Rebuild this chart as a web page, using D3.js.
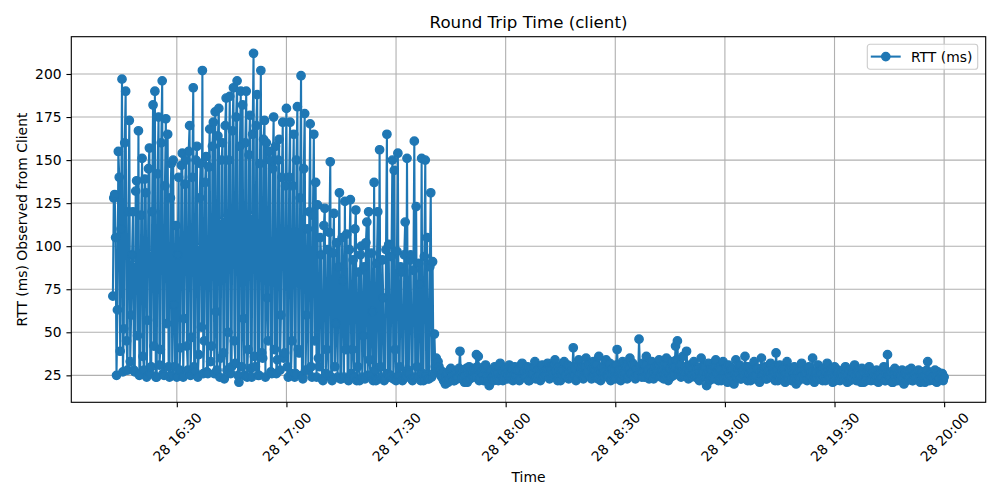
<!DOCTYPE html>
<meta charset="utf-8">
<style>

body {
  margin: 0;
  background: #fff;
}

text {
  font-family: "DejaVu Sans", sans-serif;
  fill: #000;
}

</style>
<svg width="1000" height="500"></svg>
<script src="https://d3js.org/d3.v7.min.js"></script>
<script>

// one probe every 15 s, starting 16:12:30 on the 28th
var startTime = new Date(2024, 2, 28, 16, 12, 30),
    stepSeconds = 15;

// 16:12:30 - 16:59:45, heavy jitter
var rttEarly = [
  71,128,130,105,25,63,155,140,39,110,197,27,52,160,190,45,28,120,173,33,
  60,95,120,28,27,132,138,48,167,25,26,118,151,36,28,139,131,24,57,145,
  157,26,30,120,182,42,190,24,24,142,175,31,40,160,196,26,25,135,174,55,
  165,30,24,128,148,25,150,66,30,112,24,95,140,28,41,147,154,24,58,136,
  150,42,28,155,170,25,47,140,192,30,27,150,158,24,37,128,148,53,202,26,
  45,137,152,27,26,146,168,33,42,158,172,26,178,62,28,164,180,24,35,150,
  160,38,23,170,186,28,50,150,187,26,30,167,192,45,32,175,196,25,21,158,
  190,30,182,58,25,160,190,24,40,153,176,29,24,165,212,36,30,170,188,25,
  25,148,202,38,35,162,173,24,160,70,45,155,150,27,26,145,175,40,158,26,
  34,150,162,28,60,140,172,35,38,135
];

// 17:00 - 17:41:15, jitter calming down
var rttMid = [
  180,30,24,140,172,26,45,135,165,24,26,150,181,40,38,128,199,25,23,145,
  177,28,60,110,28,120,171,30,24,118,165,45,137,24,124,35,30,105,95,23,
  22,112,122,26,40,98,25,108,149,24,22,96,119,30,55,102,24,88,131,23,
  23,105,80,24,126,40,107,23,22,98,127,26,40,92,24,110,121,22,30,85,
  22,95,100,24,48,88,23,102,114,25,120,34,25,96,62,22,137,28,22,90,
  120,23,156,30,24,92,70,22,23,98,165,26,101,24,25,94,150,23,144,40,
  22,97,154,25,30,88,85,22,23,95,114,24,151,28,26,92,95,23,22,86,
  161,24,123,30,24,90,78,22,151,26,22,94,150,25,105,23,23,88,131,24,
  91,26,49,30,35,28
];

// 17:41:30 - 20:00, stable
var rttLate = [
  33,30,28,25,24,27,22,24,20,23,26,21,23,28,29,24,25,22,22,26,27,23,24,29,39,26,23,24,28,21,25,29,21,25,30,23,26,28,24,27,
  29,24,37,30,36,22,23,27,27,25,22,29,31,23,25,21,19,26,28,24,24,22,30,27,26,23,22,30,32,25,27,22,24,28,29,26,23,25,31,24,
  26,29,22,25,30,23,25,28,28,22,23,31,32,26,27,24,24,29,30,22,22,27,29,25,26,30,33,23,24,28,28,25,22,30,31,24,27,26,25,29,
  32,25,23,30,29,24,26,31,34,27,24,22,30,28,22,26,28,32,33,24,25,29,31,23,27,30,24,28,41,25,29,22,23,31,34,26,26,29,30,23,
  24,30,35,26,27,32,31,24,23,29,33,25,28,31,25,23,36,28,22,27,30,24,27,33,34,25,24,30,32,22,26,29,29,24,23,31,40,26,28,23,
  22,28,33,25,27,31,30,23,24,29,35,26,26,32,31,24,23,28,29,25,46,30,27,24,32,27,24,31,36,26,28,23,25,30,33,27,23,29,30,25,
  27,31,34,25,24,28,31,23,26,32,35,27,22,26,29,24,33,28,25,30,42,34,45,26,28,31,24,27,36,25,27,30,39,28,23,27,31,24,26,29,
  33,26,24,30,29,23,22,27,35,25,27,31,30,24,19,26,32,22,25,29,28,24,23,30,34,27,26,22,30,28,22,25,33,24,27,29,24,21,31,26,
  25,28,29,22,20,26,34,24,26,29,31,23,23,27,28,25,36,30,24,22,30,26,22,28,27,24,33,23,25,29,29,22,21,27,35,25,26,28,30,23,
  23,27,28,24,32,26,24,29,27,22,38,28,22,25,31,23,25,28,29,24,21,26,33,23,26,29,28,22,23,27,30,24,20,25,27,22,24,28,32,25,
  25,23,28,26,22,29,30,24,24,27,35,22,21,26,27,23,31,25,23,28,26,22,29,24,22,27,32,25,25,23,27,29,21,24,30,22,24,27,28,23,
  22,26,27,23,25,28,30,24,21,25,28,22,24,27,26,23,31,25,22,28,27,24,25,21,29,26,21,24,26,22,24,28,30,23,22,26,27,24,25,22,
  28,24,21,27,26,23,24,28,30,22,22,26,37,25,25,23,27,21,21,26,29,24,24,22,26,27,22,25,28,23,20,26,27,22,25,28,23,24,29,22,
  22,25,26,23,24,27,28,22,21,26,27,24,23,21,25,28,33,23,22,26,26,24,24,22,28,25,21,27,25,23,23,26,26,22,24
];

var yTicks = [25, 50, 75, 100, 125, 150, 175, 200];
var seriesLabel = "RTT (ms)";

var values = rttEarly.concat(rttMid, rttLate);
var data = values.map(function(v, i) {
  return { t: new Date(+startTime + i * stepSeconds * 1000), v: v };
});

var blue = "#1f77b4",
    pt = 100 / 72;

var svg = d3.select("svg"),
    margin = { top: 36.7, right: 14.3, bottom: 97.7, left: 71.3 },
    width = +svg.attr("width") - margin.left - margin.right,
    height = +svg.attr("height") - margin.top - margin.bottom,
    g = svg.append("g").attr("transform", "translate(" + margin.left + "," + margin.top + ")");

// matplotlib style 5% margins on the data extent
function pad(ext) {
  var a = +ext[0], b = +ext[1], m = (b - a) * 0.05;
  return [a - m, b + m];
}

var tExt = pad(d3.extent(data, function(d) { return d.t; }));
var x = d3.scaleTime()
    .domain([new Date(tExt[0]), new Date(tExt[1])])
    .range([0, width]);

var y = d3.scaleLinear()
    .domain(pad(d3.extent(data, function(d) { return d.v; })))
    .range([height, 0]);

var xTicks = x.ticks(d3.timeMinute.every(30));

// grid
g.append("g").selectAll("line").data(xTicks).enter().append("line")
    .attr("x1", function(d) { return x(d); })
    .attr("x2", function(d) { return x(d); })
    .attr("y1", 0).attr("y2", height)
    .attr("stroke", "#b0b0b0").attr("stroke-width", 0.8 * pt);

g.append("g").selectAll("line").data(yTicks).enter().append("line")
    .attr("x1", 0).attr("x2", width)
    .attr("y1", function(d) { return y(d); })
    .attr("y2", function(d) { return y(d); })
    .attr("stroke", "#b0b0b0").attr("stroke-width", 0.8 * pt);

// series
var line = d3.line()
    .x(function(d) { return x(d.t); })
    .y(function(d) { return y(d.v); });

g.append("path")
    .datum(data)
    .attr("fill", "none")
    .attr("stroke", blue)
    .attr("stroke-width", 1.5 * pt)
    .attr("stroke-linejoin", "round")
    .attr("d", line);

g.append("g").selectAll("circle").data(data).enter().append("circle")
    .attr("cx", function(d) { return x(d.t); })
    .attr("cy", function(d) { return y(d.v); })
    .attr("r", 3 * pt)
    .attr("fill", blue)
    .attr("stroke", blue)
    .attr("stroke-width", pt);

// axes
var xAxis = g.append("g")
    .attr("transform", "translate(0," + height + ")")
    .call(d3.axisBottom(x)
      .tickValues(xTicks)
      .tickFormat(d3.timeFormat("%d %H:%M"))
      .tickSize(3.5 * pt));

xAxis.selectAll("text")
    .attr("y", 0).attr("dy", null)
    .attr("text-anchor", "middle")
    .attr("dominant-baseline", "central")
    .attr("transform", "translate(0,34.7) rotate(-45)");

var yAxis = g.append("g")
    .call(d3.axisLeft(y)
      .tickValues(yTicks)
      .tickSize(3.5 * pt)
      .tickPadding(3.5 * pt));

[xAxis, yAxis].forEach(function(a) {
  a.select(".domain").remove();
  a.selectAll(".tick line").attr("stroke", "#000").attr("stroke-width", 0.8 * pt);
  a.selectAll("text")
    .style("font-family", "'DejaVu Sans', sans-serif")
    .style("font-size", (10 * pt) + "px")
    .attr("fill", "#000");
});

// frame
g.append("rect")
    .attr("width", width).attr("height", height)
    .attr("fill", "none")
    .attr("stroke", "#000")
    .attr("stroke-width", 0.8 * pt);

// labels
svg.append("text")
    .attr("x", margin.left + width / 2).attr("y", 28)
    .attr("text-anchor", "middle")
    .style("font-size", (12 * pt) + "px")
    .text("Round Trip Time (client)");

svg.append("text")
    .attr("x", margin.left + width / 2).attr("y", 482)
    .attr("text-anchor", "middle")
    .style("font-size", (10 * pt) + "px")
    .text("Time");

svg.append("text")
    .attr("transform", "translate(26.5," + (margin.top + height / 2) + ") rotate(-90)")
    .attr("text-anchor", "middle")
    .style("font-size", (10 * pt) + "px")
    .text("RTT (ms) Observed from Client");

// legend
var lg = svg.append("g").attr("transform", "translate(867.3,44.3)");
lg.append("rect")
    .attr("width", 110.4).attr("height", 25)
    .attr("rx", 2.8)
    .attr("fill", "#fff").attr("fill-opacity", 0.8)
    .attr("stroke", "#cccccc").attr("stroke-width", 0.8 * pt);
lg.append("line")
    .attr("x1", 3.5).attr("x2", 33.4).attr("y1", 12.3).attr("y2", 12.3)
    .attr("stroke", blue).attr("stroke-width", 1.5 * pt);
lg.append("circle")
    .attr("cx", 18.5).attr("cy", 12.3).attr("r", 3 * pt)
    .attr("fill", blue).attr("stroke", blue).attr("stroke-width", pt);
lg.append("text")
    .attr("x", 43.7).attr("y", 17.3)
    .style("font-size", (10 * pt) + "px")
    .text(seriesLabel);

</script>
